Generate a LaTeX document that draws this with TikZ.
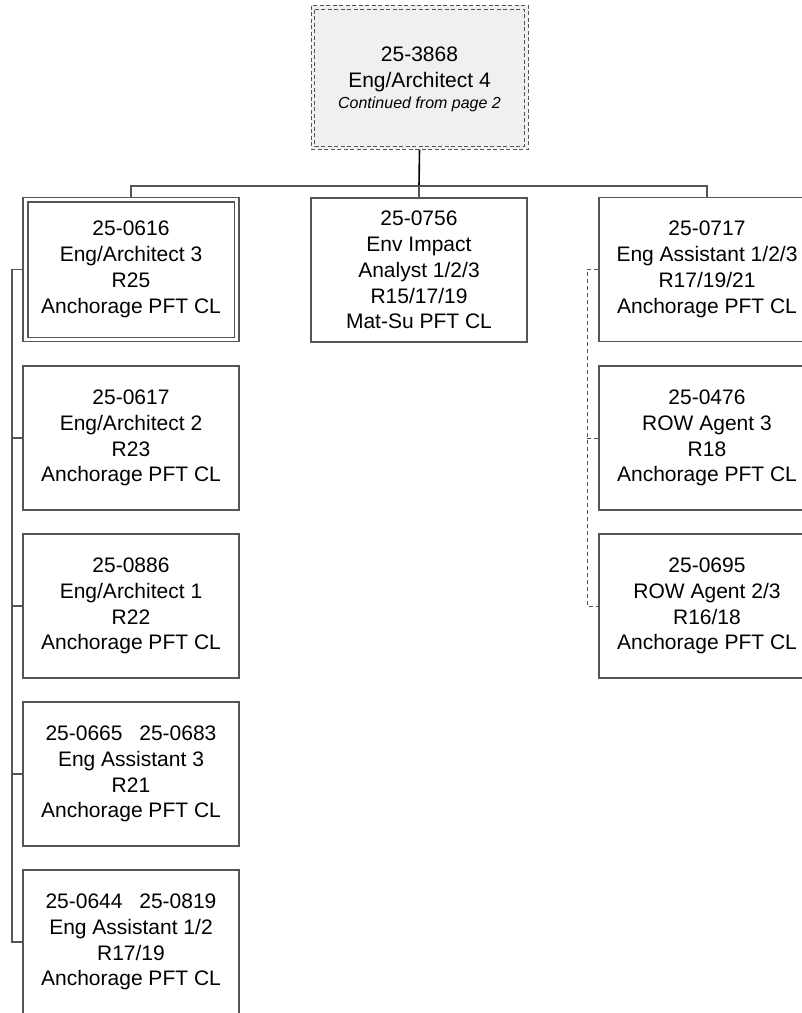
\documentclass[tikz,border=0pt]{standalone}
\usepackage{fontspec}
\setmainfont{Liberation Sans}
\begin{document}
\begin{tikzpicture}[x=1pt,y=-1pt,
  edgecol/.style={draw={rgb,255:red,85;green,85;blue,85}},
  card/.style={rectangle, edgecol, line width=1.2pt, minimum width=216pt, minimum height=144pt,
    inner sep=0pt, align=center, font=\fontsize{21}{25.8}\selectfont},
  link/.style={edgecol, line width=1.2pt},
  dlink/.style={edgecol, line width=1pt, dash pattern=on 4pt off 3pt},
  topbox/.style={rectangle, edgecol, line width=1pt, dash pattern=on 4pt off 2.5pt,
    fill={rgb,255:red,240;green,240;blue,240}, minimum width=217pt, minimum height=144pt,
    inner sep=0pt},
  toptext/.style={align=center, inner sep=0pt, font=\fontsize{21}{25.8}\selectfont}
]
\path[use as bounding box, clip] (0,0) rectangle (802,1013);

% top box
\node[topbox] (top) at (419.5,77) {};
\draw[edgecol, line width=1pt, dash pattern=on 4pt off 2.5pt] ([shift={(4,5)}]top.north west) rectangle ([shift={(-4,-3.5)}]top.south east);
\node[toptext, yshift=-2.5pt] (toplabel) at (top.center) {25-3868\\Eng/Architect 4\\[-4.5pt]{\fontsize{16}{18}\selectfont\itshape Continued from page 2}};

% middle
\node[card] (m) at (419,270) {25-0756\\Env Impact\\Analyst 1/2/3\\R15/17/19\\Mat-Su PFT CL};

% left column
\node[card] (l1) at (131,269.5) {25-0616\\Eng/Architect 3\\R25\\Anchorage PFT CL};
\draw[edgecol, line width=1.2pt] ([shift={(5.5,5)}]l1.north west) rectangle ([shift={(-5.5,-5)}]l1.south east);
\node[card] (l2) at (131,438) {25-0617\\Eng/Architect 2\\R23\\Anchorage PFT CL};
\node[card] (l3) at (131,606) {25-0886\\Eng/Architect 1\\R22\\Anchorage PFT CL};
\node[card] (l4) at (131,774) {25-0665\hspace{0.8em}25-0683\\Eng Assistant 3\\R21\\Anchorage PFT CL};
\node[card] (l5) at (131,942) {25-0644\hspace{0.8em}25-0819\\Eng Assistant 1/2\\R17/19\\Anchorage PFT CL};

% right column
\node[card] (r1) at (707,269.5) {25-0717\\Eng Assistant 1/2/3\\R17/19/21\\Anchorage PFT CL};
\node[card] (r2) at (707,438) {25-0476\\ROW Agent 3\\R18\\Anchorage PFT CL};
\node[card] (r3) at (707,606) {25-0695\\ROW Agent 2/3\\R16/18\\Anchorage PFT CL};

% connectors
\coordinate (bus) at (419,186);
\draw[black, line width=1.6pt] (top.south) -- (bus);
\draw[link] (l1.north) |- (bus) -| (r1.north);
\draw[link] (bus) -- (m.north);

\coordinate (lsp) at (12,0);
\draw[link] (l1.west) -- (l1.west -| lsp) -- (l5.west -| lsp) -- (l5.west);
\foreach \n in {l2,l3,l4} \draw[link] (\n.west) -- (\n.west -| lsp);

\coordinate (rsp) at (587,0);
\draw[dlink] (r1.west) -- (r1.west -| rsp) -- (r3.west -| rsp) -- (r3.west);
\draw[dlink] (r2.west) -- (r2.west -| rsp);
\end{tikzpicture}
\end{document}
